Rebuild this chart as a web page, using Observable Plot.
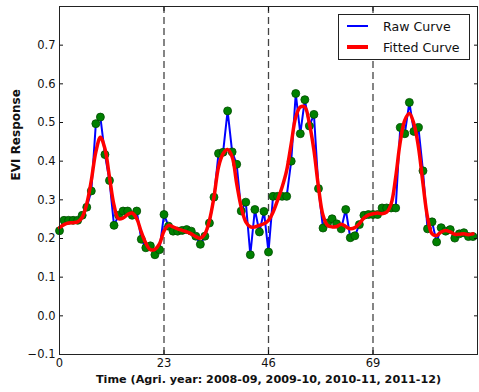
<!DOCTYPE html>
<html>
<head>
<meta charset="utf-8">
<script src="https://cdn.jsdelivr.net/npm/d3@7"></script>
<script src="https://cdn.jsdelivr.net/npm/@observablehq/plot@0.6"></script>
<style>
  body { margin: 0; background: #fff; font-family: "DejaVu Sans", sans-serif; }
  #wrap { position: relative; width: 479px; height: 392px; }
  #legend { position: absolute; left: 338px; top: 14px; width: 132px; height: 46px; border: 1px solid #222; background: #fff; box-sizing: border-box; font-size: 12.6px; color: #111; }
  #legend .row { position: absolute; left: 0; display: flex; align-items: center; }
  #legend .sw { display: inline-block; width: 21px; margin-left: 8px; margin-right: 15px; }
</style>
</head>
<body>
<div id="wrap"></div>
<script>
const xTicks = [0, 23, 46, 69];
const yTicks = [-0.1, 0.0, 0.1, 0.2, 0.3, 0.4, 0.5, 0.6, 0.7];
const yearBreaks = [23, 46, 69];
const seriesNames = ["Raw Curve", "Fitted Curve"];
const xLabel = "Time (Agri. year: 2008-09, 2009-10, 2010-11, 2011-12)";
const yLabel = "EVI Response";

const raw = [0.22,0.247,0.247,0.247,0.247,0.26,0.281,0.323,0.497,0.514,0.417,0.35,0.234,0.26,0.271,0.271,0.26,0.271,0.198,0.176,0.181,0.158,0.171,0.262,
  0.232,0.219,0.219,0.221,0.223,0.219,0.206,0.185,0.206,0.24,0.307,0.42,0.423,0.53,0.424,0.392,0.271,0.294,0.158,0.275,0.217,0.27,0.165,
  0.309,0.309,0.309,0.309,0.4,0.575,0.471,0.559,0.491,0.521,0.329,0.227,0.24,0.251,0.238,0.225,0.275,0.202,0.207,0.236,0.26,0.262,0.262,
  0.262,0.279,0.279,0.279,0.279,0.487,0.471,0.552,0.477,0.487,0.375,0.225,0.243,0.191,0.228,0.219,0.223,0.201,0.212,0.215,0.205,0.205];

const fitted = [0.228,0.236,0.240,0.241,0.243,0.255,0.290,0.350,0.424,0.462,0.432,0.359,0.286,0.251,0.253,0.262,0.266,0.251,0.217,0.188,0.171,0.172,0.186,0.219,
  0.234,0.230,0.225,0.221,0.217,0.212,0.205,0.201,0.212,0.247,0.307,0.385,0.419,0.430,0.411,0.342,0.281,0.243,0.230,0.230,0.234,0.238,0.247,
  0.268,0.299,0.333,0.376,0.445,0.514,0.540,0.540,0.497,0.428,0.333,0.260,0.234,0.230,0.231,0.237,0.231,0.225,0.228,0.238,0.253,0.261,0.264,
  0.266,0.264,0.268,0.290,0.359,0.450,0.506,0.523,0.497,0.437,0.342,0.255,0.212,0.208,0.217,0.221,0.217,0.211,0.211,0.212,0.210,0.212];

const rawData = raw.map((v, i) => ({t: i, v}));
const fitData = fitted.map((v, i) => ({t: i, v}));

const fmt = d => (d < 0 ? "\u2212" : "") + Math.abs(d).toFixed(1);
const blank = () => "";

const chart = Plot.plot({
  width: 479,
  height: 392,
  marginLeft: 59,
  marginRight: 2,
  marginTop: 6,
  marginBottom: 38,
  style: {fontFamily: "DejaVu Sans, sans-serif", fontSize: "11.5px", color: "#111", background: "#fff"},
  x: {domain: [0, 92]},
  y: {domain: [-0.1, 0.8]},
  marks: [
    Plot.ruleX(yearBreaks, {stroke: "#444", strokeWidth: 1.3, strokeDasharray: "7,4"}),
    Plot.line(rawData, {x: "t", y: "v", stroke: "#0000ff", strokeWidth: 2}),
    Plot.dot(rawData, {x: "t", y: "v", r: 4, fill: "#008000", stroke: "#004d00", strokeWidth: 0.8}),
    Plot.line(fitData, {x: "t", y: "v", stroke: "#ff0000", strokeWidth: 3.5, curve: "catmull-rom"}),
    Plot.axisX(xTicks, {anchor: "bottom", tickSize: -4, tickPadding: 8, fontSize: 11.5, label: null, stroke: "#111"}),
    Plot.axisX(xTicks, {anchor: "top", tickSize: -4, tickFormat: blank, label: null, stroke: "#111"}),
    Plot.axisY(yTicks, {anchor: "left", tickSize: -4, tickPadding: 8, tickFormat: fmt, fontSize: 11.5, label: null, stroke: "#111"}),
    Plot.axisY(yTicks, {anchor: "right", tickSize: -4, tickFormat: blank, label: null, stroke: "#111"}),
    Plot.frame({stroke: "#222", strokeWidth: 1}),
    Plot.text([xLabel], {frameAnchor: "bottom", dy: 28, fontWeight: "bold", fontSize: 11.2, fill: "#111"}),
    Plot.text([yLabel], {frameAnchor: "left", rotate: -90, dx: -43, fontWeight: "bold", fontSize: 12, fill: "#111"})
  ]
});

const wrap = document.getElementById("wrap");
wrap.appendChild(chart);

const legend = document.createElement("div");
legend.id = "legend";
const colors = ["#0000ff", "#ff0000"];
const widths = [2, 3.5];
seriesNames.forEach((name, i) => {
  const row = document.createElement("div");
  row.className = "row";
  row.style.top = (i === 0 ? 2 : 23) + "px";
  row.style.height = "18px";
  const sw = document.createElement("span");
  sw.className = "sw";
  sw.style.height = widths[i] + "px";
  sw.style.background = colors[i];
  const lab = document.createElement("span");
  lab.textContent = name;
  row.appendChild(sw);
  row.appendChild(lab);
  legend.appendChild(row);
});
wrap.appendChild(legend);
</script>
</body>
</html>
